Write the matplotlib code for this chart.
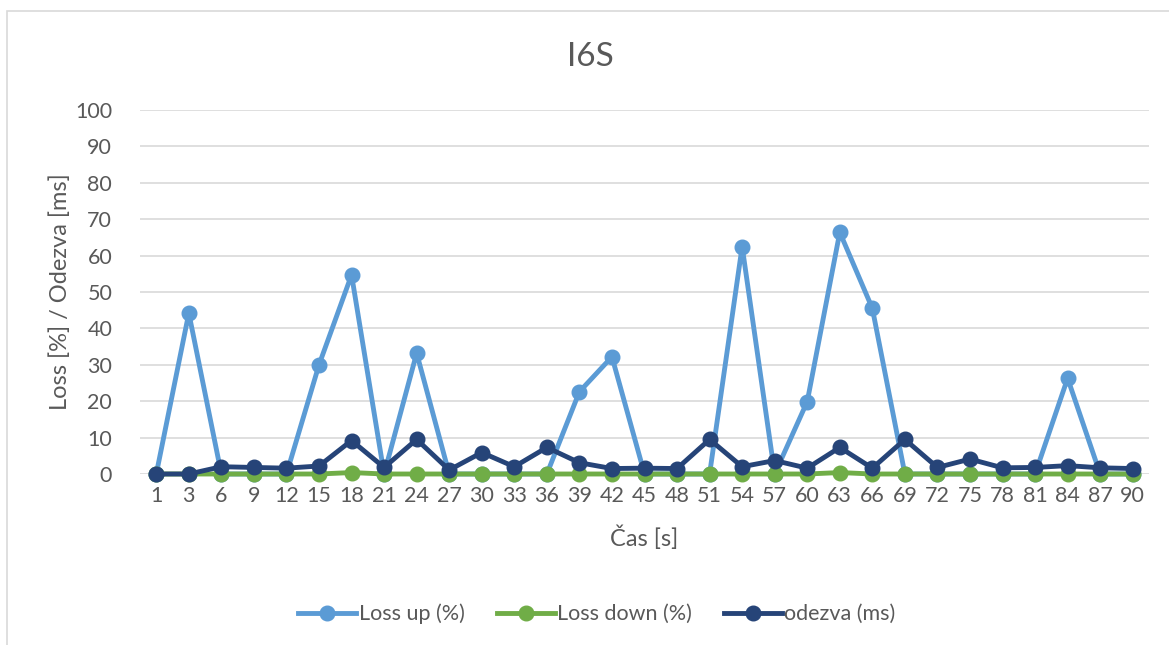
import numpy as np
import matplotlib.pyplot as plt
from matplotlib.patches import Rectangle

plt.rcParams['font.family'] = ['Lato', 'DejaVu Sans']

# data
cas = [1, 3, 6, 9, 12, 15, 18, 21, 24, 27, 30, 33, 36, 39, 42, 45,
       48, 51, 54, 57, 60, 63, 66, 69, 72, 75, 78, 81, 84, 87, 90]
loss_up = [0, 44.2, 0, 0, 0, 30, 54.7, 0, 33.2, 0, 0, 0, 0, 22.6, 32.2, 0,
           0, 0, 62.5, 0, 19.9, 66.4, 45.5, 0, 0, 0, 0, 0, 26.3, 0, 0]
loss_down = [0, 0, 0, 0, 0, 0, 0.4, 0, 0, 0, 0, 0, 0, 0, 0, 0,
             0, 0, 0, 0, 0, 0.4, 0, 0, 0, 0, 0, 0, 0, 0, 0]
odezva = [0, 0, 2.0, 1.8, 1.6, 2.2, 9.2, 1.8, 9.5, 1.1, 5.9, 2.0, 7.3, 3.1, 1.5, 1.6,
          1.5, 9.5, 2.0, 3.7, 1.6, 7.3, 1.6, 9.5, 1.8, 4.1, 1.7, 1.8, 2.3, 1.7, 1.5]

txt = '#595959'

def main():
    fig = plt.figure(figsize=(11.69, 6.45), dpi=100)
    # chart frame
    fig.patches.append(Rectangle((7/1169, -0.1), 1.2, (645-11)/645 + 0.1,
                                 transform=fig.transFigure, fill=False,
                                 edgecolor='#D9D9D9', linewidth=1.2))
    ax = fig.add_axes([140/1169, (645-474)/645, 1009/1169, 364/645])
    x = np.arange(len(cas))

    ax.plot(x, loss_up, 'o-', color='#5B9BD5', lw=3.5, ms=10.5, label='Loss up (%)')
    ax.plot(x, loss_down, 'o-', color='#70AD47', lw=3.5, ms=10.5, label='Loss down (%)')
    ax.plot(x, odezva, 'o-', color='#264478', lw=3.5, ms=10.5, label='odezva (ms)')

    ax.set_xlim(-0.5, len(cas) - 0.5)
    ax.set_ylim(0, 100)
    ax.set_yticks(np.arange(0, 101, 10))
    ax.set_xticks(x)
    ax.set_xticklabels([str(c) for c in cas])
    ax.tick_params(length=0, labelsize=15.5, colors=txt)
    ax.tick_params(axis='y', pad=20)
    ax.tick_params(axis='x', pad=9)
    ax.grid(axis='y', color='#D9D9D9', lw=1.2)
    ax.set_axisbelow(True)
    for s in ax.spines.values():
        s.set_visible(False)
    for ln in ax.lines:
        ln.set_clip_on(False)

    ax.set_xlabel('Čas [s]', fontsize=17, color=txt, labelpad=14)
    ax.set_ylabel('Loss [%] / Odezva [ms]', fontsize=17, color=txt, labelpad=3)
    fig.text(590/1169, 1 - 57/645, 'I6S', fontsize=24, color=txt,
             ha='center', va='center')

    fig.legend(loc='center', bbox_to_anchor=(597/1169, 1 - 614/645), ncol=3,
               frameon=False, fontsize=15.5, labelcolor=txt, handlelength=2.7,
               handletextpad=0.1, columnspacing=1.5)

    fig.savefig('out.png', dpi=100)

if __name__ == '__main__':
    main()
